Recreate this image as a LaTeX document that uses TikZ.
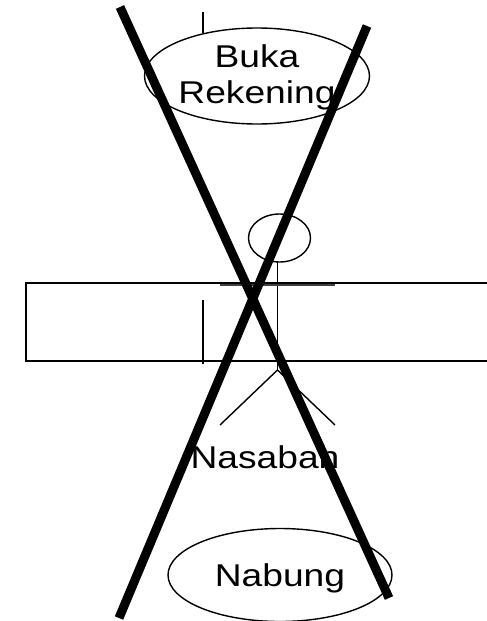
\documentclass[tikz,border=0pt]{standalone}
\usepackage{fontspec}
\setmainfont{Liberation Sans}
\usetikzlibrary{shapes.geometric}
\tikzset{
  thin line/.style={draw=black,line width=1.4pt},
  usecase/.style={ellipse,thin line,inner sep=0pt,align=center,font=\fontsize{31.5}{36}\selectfont},
  cross/.style={draw=black,line width=9pt},
  label text/.style={inner sep=0pt,anchor=base,font=\fontsize{31.5}{36}\selectfont}
}
\newcommand{\lbl}[1]{\scalebox{1.18}[1]{#1}}
\newcommand{\lowered}[2]{\raisebox{-#1}[\height][\depth]{\lbl{#2}}}
\begin{document}
\begin{tikzpicture}[x=1pt,y=-1pt]
\useasboundingbox (0,0) rectangle (487,621);
% frame open at the right edge
\coordinate (rtl) at (487,283);
\coordinate (ltl) at (26,283);
\coordinate (lbl) at (26,361);
\coordinate (rbl) at (487,361);
\draw[thin line] (rtl) -- (ltl) -- (lbl) -- (rbl);
% left short lines
\coordinate (a1) at (203,12);
\coordinate (a2) at (203,33);
\draw[thin line] (a1) -- (a2);
\coordinate (b1) at (203,300);
\coordinate (b2) at (203,364);
\draw[thin line] (b1) -- (b2);
% use cases
\node[usecase,minimum width=225pt,minimum height=96pt] (buka) at (257,76) {\lowered{1pt}{Buka}\\\lowered{1pt}{Rekening}};
\node[usecase,minimum width=224pt,minimum height=93pt] (nabung) at (280,575) {\lowered{3pt}{Nabung}};
% actor
\node[ellipse,thin line,inner sep=0pt,minimum width=62pt,minimum height=48pt] (head) at (279.5,238) {};
\coordinate (hip) at (277.5,370);
\coordinate (neck) at (277.5,262);
\coordinate (armL) at (220,285);
\coordinate (armR) at (335,285);
\coordinate (legL) at (220,425);
\coordinate (legR) at (335,425);
\draw[thin line] (neck) -- (hip);
\draw[draw=black!75,line width=1.8pt] (armL) -- (armR);
\draw[thin line] (legL) -- (hip) -- (legR);
\node[label text] (nasabah) at (265,468) {\lbl{Nasabah}};
% big cross
\coordinate (c1) at (120,7);
\coordinate (c2) at (389,598);
\coordinate (c3) at (367,26);
\coordinate (c4) at (119,618);
\draw[cross] (c1) -- (c2);
\draw[cross] (c3) -- (c4);
\end{tikzpicture}
\end{document}
